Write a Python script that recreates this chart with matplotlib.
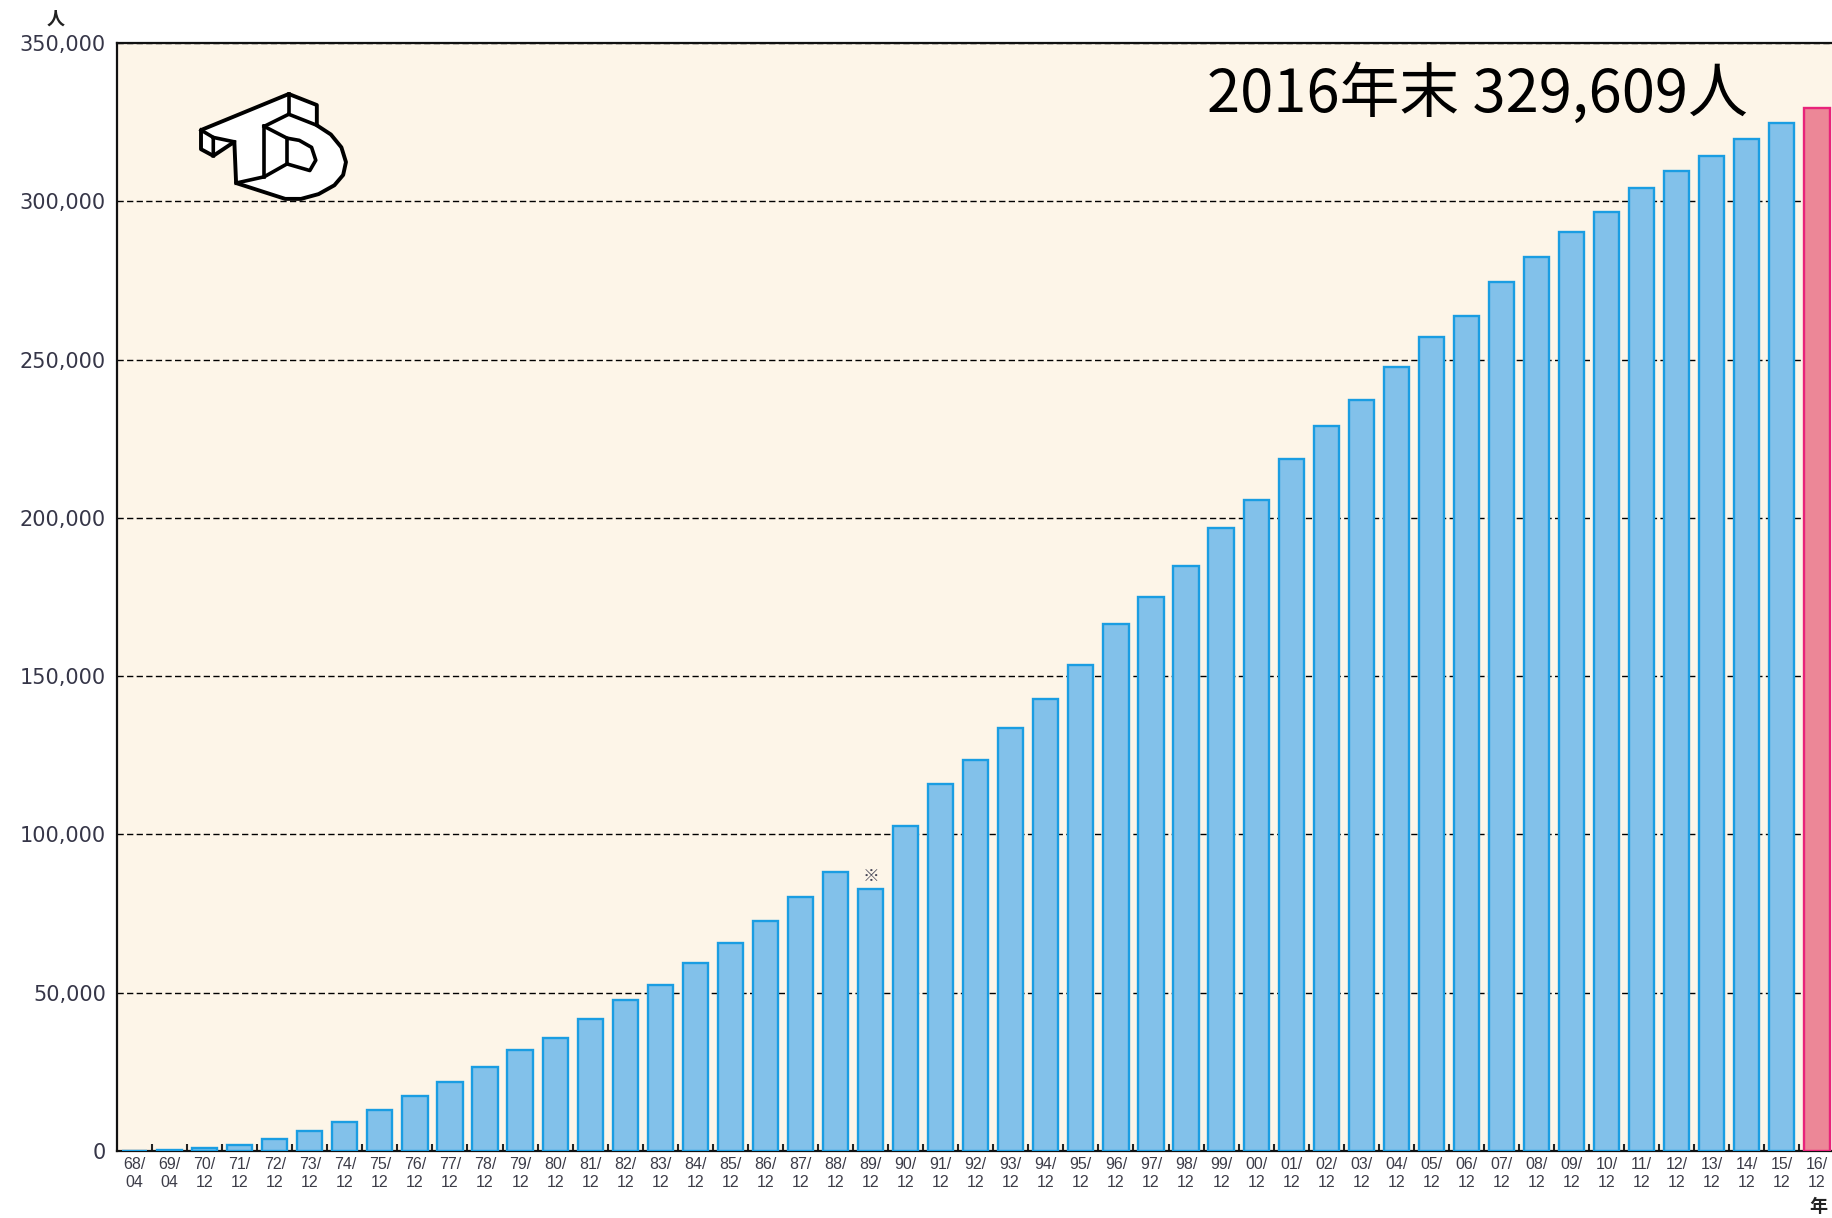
import matplotlib
matplotlib.use("Agg")
import matplotlib.pyplot as plt
from matplotlib.patches import Polygon
from matplotlib.lines import Line2D

# ---------------- data ----------------
years = ['68', '69', '70', '71', '72', '73', '74', '75', '76', '77',
         '78', '79', '80', '81', '82', '83', '84', '85', '86', '87',
         '88', '89', '90', '91', '92', '93', '94', '95', '96', '97',
         '98', '99', '00', '01', '02', '03', '04', '05', '06', '07',
         '08', '09', '10', '11', '12', '13', '14', '15', '16']
months = ['04', '04'] + ['12'] * 47
values = [0, 450, 950, 2000, 3900, 6300, 9300, 12900, 17500, 21800,
          26600, 31800, 35800, 41700, 47600, 52400, 59400, 65700, 72800, 80100,
          88200, 82700, 102700, 116000, 123400, 133700, 142900, 153600, 166600, 175100,
          184700, 196900, 205700, 218600, 229000, 237100, 247800, 257000, 263700, 274400,
          282500, 290300, 296600, 304300, 309500, 314300, 319800, 324600, 329609]
highlight_index = 48
note_index = 21  # 89/12 bar marked with ※
ytick_values = [0, 50000, 100000, 150000, 200000, 250000, 300000, 350000]
ytick_labels = ['0', '50,000', '100,000', '150,000', '200,000', '250,000', '300,000', '350,000']
annotation = '2016年末 329,609人'

# ---------------- figure ----------------
W, H = 1833, 1218
fig = plt.figure(figsize=(W / 100, H / 100), dpi=100)
fig.patch.set_facecolor('white')

px_per_unit = 35.05
x0, x1 = -0.5, 49.0
left_px, top_px, base_px = 117, 43, 1151
ax = fig.add_axes([left_px / W, (H - base_px) / H,
                   (x1 - x0) * px_per_unit / W, (base_px - top_px) / H])
ax.set_facecolor('#FDF5E8')
ax.set_xlim(x0, x1)
ax.set_ylim(0, 350000)

xs = list(range(len(values)))
blue_fill, blue_edge = '#82C1EA', '#1A9DE2'
pink_fill, pink_edge = '#EC8797', '#E8237A'
fills = [pink_fill if i == highlight_index else blue_fill for i in xs]
edges = [pink_edge if i == highlight_index else blue_edge for i in xs]
ax.bar(xs, values, width=0.72, color=fills, edgecolor=edges, linewidth=1.7, zorder=3)

# grid
ax.set_axisbelow(True)
ax.set_yticks(ytick_values)
ax.set_yticklabels(ytick_labels)
ax.yaxis.grid(True, color='black', linewidth=1.0, linestyle=(0, (4.5, 2.4)), zorder=1)

# x ticks: labels at centers, small inward marks at bar boundaries
ax.set_xticks(xs)
ax.set_xticklabels([f'{y}/\n{m}' for y, m in zip(years, months)],
                   fontsize=11.5, family=['Liberation Sans', 'DejaVu Sans'],
                   color='#3c3c48', linespacing=1.25)
ax.set_xticks([i + 0.5 for i in xs[:-1]], minor=True)
ax.tick_params(axis='x', which='major', length=0, pad=4)
ax.tick_params(axis='x', which='minor', direction='in', length=5, width=1.5, color='#222222')
ax.tick_params(axis='y', which='major', length=0, pad=8, labelsize=15, labelcolor='#363648')
for lab in ax.get_yticklabels():
    lab.set_family(['DejaVu Sans'])

for s in ['left', 'top', 'bottom']:
    ax.spines[s].set_color('#111111')
    ax.spines[s].set_linewidth(1.6)
ax.spines['right'].set_visible(False)

# note mark
ax.annotate('※', (note_index, values[note_index]), xytext=(0, 9), textcoords='offset points',
            ha='center', va='center', fontsize=12, color='#444455',
            family=['Noto Sans CJK JP', 'DejaVu Sans'])

# unit labels
fig.text(56 / W, 1 - 19 / H, '人', ha='center', va='center', fontsize=13,
         family=['Noto Sans CJK JP'], color='#222222', fontweight='bold')
fig.text(1818 / W, 1 - 1207 / H, '年', ha='center', va='center', fontsize=13,
         family=['Noto Sans CJK JP'], color='#222222', fontweight='bold')

# big annotation
fig.text(1207 / W, 1 - 112 / H, annotation, ha='left', va='baseline', fontsize=43,
         family=['Noto Sans CJK JP', 'DejaVu Sans'], color='black')

# ---------------- logo (decoration) ----------------
def lp(pts):
    return [((201 + (zx - 25) * 0.351) / W, 1 - (94 + (zy - 20) * 0.368) / H) for zx, zy in pts]

outline = [(25, 118), (275, 20), (355, 50), (355, 105), (395, 130), (425, 165), (438, 205),
           (430, 240), (405, 268), (360, 292), (310, 305), (265, 305), (125, 262),
           (120, 150), (60, 188), (25, 170)]
fig.patches.append(Polygon(lp(outline), closed=True, facecolor='white', edgecolor='black',
                           linewidth=2.8, joinstyle='round', transform=fig.transFigure,
                           figure=fig, zorder=5))
hole = [(270, 140), (270, 210), (335, 228), (352, 200), (340, 165), (305, 146)]
fig.patches.append(Polygon(lp(hole), closed=True, facecolor='white', edgecolor='black',
                           linewidth=2.6, joinstyle='round', transform=fig.transFigure,
                           figure=fig, zorder=6))
inner_lines = [
    [(25, 118), (60, 138), (60, 188)],
    [(60, 138), (120, 150)],
    [(275, 20), (275, 75)],
    [(275, 75), (355, 105)],
    [(275, 75), (205, 108)],
    [(205, 108), (205, 245)],
    [(205, 108), (270, 140)],
    [(125, 262), (205, 245), (270, 210)],
]
for seg in inner_lines:
    pts = lp(seg)
    fig.lines.append(Line2D([p[0] for p in pts], [p[1] for p in pts], color='black',
                            linewidth=2.6, solid_joinstyle='round', transform=fig.transFigure,
                            figure=fig, zorder=7))

fig.savefig('out.png', dpi=100)
